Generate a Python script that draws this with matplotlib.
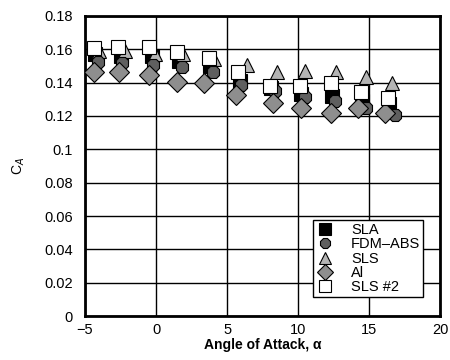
import matplotlib
matplotlib.use("Agg")
import matplotlib.pyplot as plt

plt.rcParams['font.family'] = ['Liberation Sans', 'DejaVu Sans']

alpha_sla = [-4.3, -2.5, -0.3, 1.6, 3.8, 5.9, 8.1, 10.2, 12.4, 14.5, 16.4]
ca_sla = [0.157, 0.156, 0.156, 0.153, 0.150, 0.141, 0.137, 0.133, 0.132, 0.129, 0.127]

alpha_fdm = [-4.1, -2.4, -0.2, 1.8, 4.0, 6.0, 8.4, 10.5, 12.6, 14.8, 16.8]
ca_fdm = [0.1526, 0.1516, 0.1506, 0.1496, 0.1466, 0.1386, 0.135, 0.1316, 0.129, 0.1246, 0.1206]

alpha_sls = [-4.0, -2.2, -0.1, 1.9, 4.1, 6.4, 8.5, 10.5, 12.7, 14.8, 16.6]
ca_sls = [0.159, 0.159, 0.157, 0.157, 0.154, 0.1506, 0.1466, 0.1472, 0.1466, 0.1436, 0.1396]

alpha_al = [-4.4, -2.6, -0.5, 1.5, 3.4, 5.6, 8.2, 10.2, 12.3, 14.2, 16.1]
ca_al = [0.1466, 0.1466, 0.1446, 0.1406, 0.1396, 0.1326, 0.1276, 0.1246, 0.122, 0.1246, 0.122]

alpha_sls2 = [-4.4, -2.7, -0.5, 1.5, 3.7, 5.8, 8.0, 10.1, 12.3, 14.4, 16.3]
ca_sls2 = [0.1606, 0.1616, 0.1612, 0.1586, 0.1546, 0.1462, 0.138, 0.138, 0.140, 0.1346, 0.1306]

xticks = [-5, 0, 5, 10, 15, 20]
xtick_labels = ['\u22125', '0', '5', '10', '15', '20']
yticks = [0, 0.02, 0.04, 0.06, 0.08, 0.1, 0.12, 0.14, 0.16, 0.18]
ytick_labels = ['0', '0.02', '0.04', '0.06', '0.08', '0.1', '0.12', '0.14', '0.16', '0.18']

fig = plt.figure(figsize=(4.5, 3.6), dpi=100)
ax = fig.add_axes([0.189, 0.122, 0.789, 0.834])

ms = 10.5
ax.plot(alpha_sla, ca_sla, 's', ms=ms, mfc='black', mec='black', mew=0.8, label='SLA', zorder=3)
ax.plot(alpha_fdm, ca_fdm, '8', ms=ms - 0.5, mfc='#5f5f5f', mec='black', mew=0.8, label='FDM\u2013ABS', zorder=4)
ax.plot(alpha_sls, ca_sls, '^', ms=ms, mfc='#b4b4b4', mec='black', mew=0.8, label='SLS', zorder=3.5)
ax.plot(alpha_al, ca_al, 'D', ms=ms, mfc='#8e8e8e', mec='black', mew=0.8, label='Al', zorder=5)
ax.plot(alpha_sls2, ca_sls2, 's', ms=ms, mfc='white', mec='black', mew=0.8, label='SLS #2', zorder=6)

ax.set_xlim(-5, 20)
ax.set_ylim(0, 0.18)
ax.set_xticks(xticks)
ax.set_xticklabels(xtick_labels)
ax.set_yticks(yticks)
ax.set_yticklabels(ytick_labels)
ax.grid(True, color='black', linewidth=1.0)
ax.set_axisbelow(True)
for s in ax.spines.values():
    s.set_linewidth(2.0)
ax.tick_params(length=0, labelsize=10.5)
ax.tick_params(axis='y', pad=9)
ax.tick_params(axis='x', pad=5)

ax.set_xlabel('Angle of Attack, \u03b1', fontsize=10, fontweight='bold', labelpad=1)
ax.set_ylabel('C$_A$', fontsize=10, labelpad=12)

leg = ax.legend(loc='lower right', fontsize=10.5, frameon=True, fancybox=False,
                edgecolor='black', framealpha=1, borderpad=0.2, labelspacing=0.02,
                handletextpad=1.2, handlelength=1.2, borderaxespad=0, markerscale=0.8,
                bbox_to_anchor=(0.952, 0.063))
leg.get_frame().set_linewidth(1.0)

fig.savefig('out.png', dpi=100)
